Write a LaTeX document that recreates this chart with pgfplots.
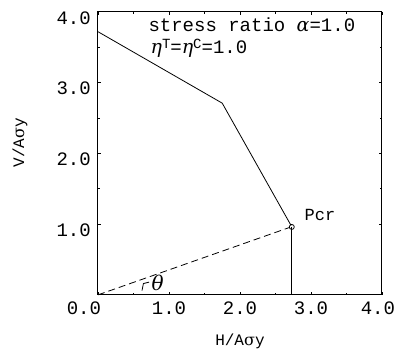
\documentclass[border=0pt]{standalone}
\usepackage{pgfplots}
\pgfplotsset{compat=1.18}
\usepackage{fontspec}
\setmainfont{Liberation Mono}
\newfontfamily\symfont{DejaVu Serif}
\begin{document}
\begin{tikzpicture}
\fontsize{19}{22}\selectfont
\begin{axis}[
  scale only axis,
  width=284pt, height=283pt,
  xmin=0, xmax=4, ymin=0, ymax=4,
  xtick={0,1,2,3,4},
  xticklabels={{\makebox[6pt][r]{0.0}},1.0,2.0,3.0,{\makebox[26pt][r]{4.0}}},
  ytick={1,2,3,4},
  yticklabels={1.0,2.0,3.0,4.0},
  minor tick num=1,
  tick align=inside,
  major tick length=3pt, minor tick length=2pt,
  tick style={black, line width=0.8pt},
  axis line style={line width=1pt},
  ticklabel style={font=\fontsize{19}{22}\selectfont, inner sep=1pt},
  yticklabel style={yshift=-6pt, xshift=-6pt},
  xticklabel style={yshift=-6pt},
  xlabel={H/A{\symfont σ}y},
  ylabel={V/A{\symfont σ}y},
  label style={font=\fontsize{16}{19}\selectfont, inner sep=1pt},
  xlabel style={at={(axis description cs:0.5,-0.166)}, anchor=center},
  ylabel style={at={(axis description cs:-0.275,0.537)}, anchor=center},
  clip=false,
]
\addplot[black, line width=0.8pt] coordinates {(0,3.72) (1.75,2.71) (2.72,0.98)};
\addplot[black, line width=0.8pt] coordinates {(2.73,0.96) (2.73,0)};
\addplot[black, line width=0.8pt, dash pattern=on 7pt off 4pt] coordinates {(0,0) (2.69,0.95)};
\addplot[only marks, mark=o, mark size=2.5pt, black, line width=0.8pt] coordinates {(2.73,0.96)};
\node[anchor=west, font=\fontsize{17}{20}\selectfont] at (axis cs:2.82,1.13) {Pcr};
\node[anchor=west, font=\fontsize{19}{22}\selectfont] at (axis cs:0.62,3.82) {stress ratio {\symfont\itshape α}=1.0};
\node[anchor=west, font=\fontsize{19}{22}\selectfont] at (axis cs:0.65,3.48) {{\symfont\itshape η}\raisebox{0.5ex}{\fontsize{14}{16}\selectfont T}={\symfont\itshape η}\raisebox{0.5ex}{\fontsize{14}{16}\selectfont C}=1.0};
\node[font=\fontsize{20}{22}\selectfont] at (axis cs:0.84,0.17) {{\symfont\itshape θ}};
\draw[line width=0.8pt] (axis cs:0.62,0.06) -- (axis cs:0.64,0.16) -- (axis cs:0.72,0.18);
\path (axis description cs:-0.345,-0.194) rectangle (axis description cs:1.053,1.042);
\end{axis}
\end{tikzpicture}
\end{document}
